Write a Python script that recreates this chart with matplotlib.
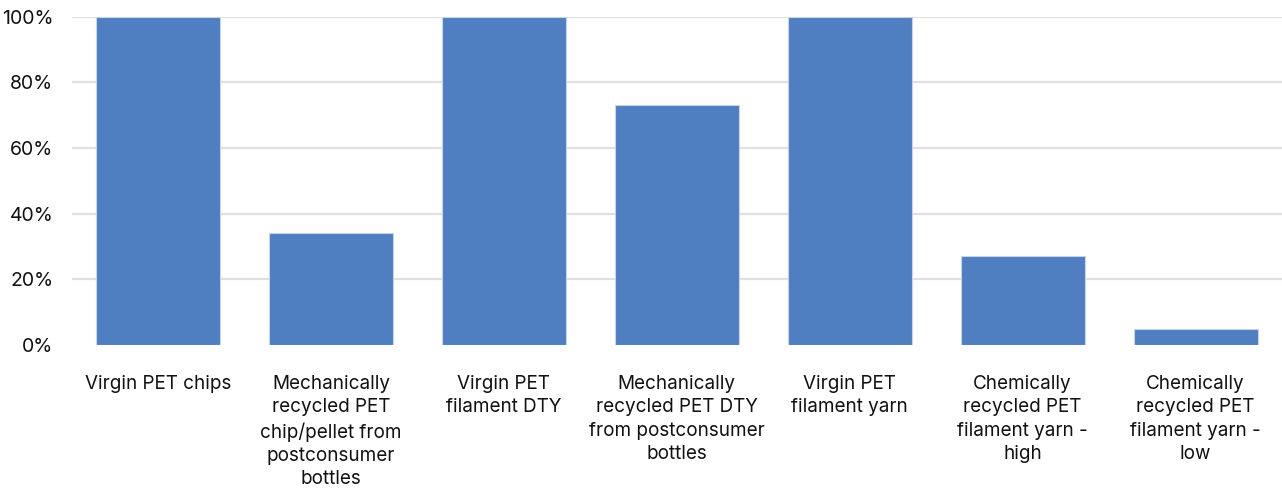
import matplotlib
matplotlib.use("Agg")
import matplotlib.pyplot as plt
from matplotlib.ticker import FuncFormatter

categories = [
    "Virgin PET chips",
    "Mechanically\nrecycled PET\nchip/pellet from\npostconsumer\nbottles",
    "Virgin PET\nfilament DTY",
    "Mechanically\nrecycled PET DTY\nfrom postconsumer\nbottles",
    "Virgin PET\nfilament yarn",
    "Chemically\nrecycled PET\nfilament yarn -\nhigh",
    "Chemically\nrecycled PET\nfilament yarn -\nlow",
]
values = [100, 34, 100, 73, 100, 27, 5]
y_ticks = [0, 20, 40, 60, 80, 100]

plt.rcParams['font.family'] = ['Inter', 'DejaVu Sans']

fig = plt.figure(figsize=(12.82, 4.88), dpi=100)
ax = fig.add_axes([71.5 / 1282, 1 - 345 / 488, (1282 - 71.5) / 1282, 328.3 / 488])

x = list(range(len(categories)))
ax.bar(x, values, width=0.717, color="#4f7fc0", edgecolor="#c9d4e6", linewidth=0.8, zorder=3)

ax.set_xlim(-0.5, len(categories) - 0.5)
ax.set_ylim(0, 100)
ax.set_yticks(y_ticks)
ax.yaxis.set_major_formatter(FuncFormatter(lambda v, p: f"{int(v)}%"))
for t in y_ticks:
    if t > 0:
        ax.axhline(t, color="#e0e0e0", linewidth=1.6, zorder=1)

ax.set_xticks(x)
ax.set_xticklabels(categories, fontsize=13.6, linespacing=1.38, va="top", color="#111111")
ax.tick_params(axis="x", length=0, pad=21.5)
ax.tick_params(axis="y", length=0, pad=13, labelsize=14, labelcolor="#111111")

for s in ax.spines.values():
    s.set_visible(False)

fig.savefig("out.png", dpi=100, facecolor="white")
